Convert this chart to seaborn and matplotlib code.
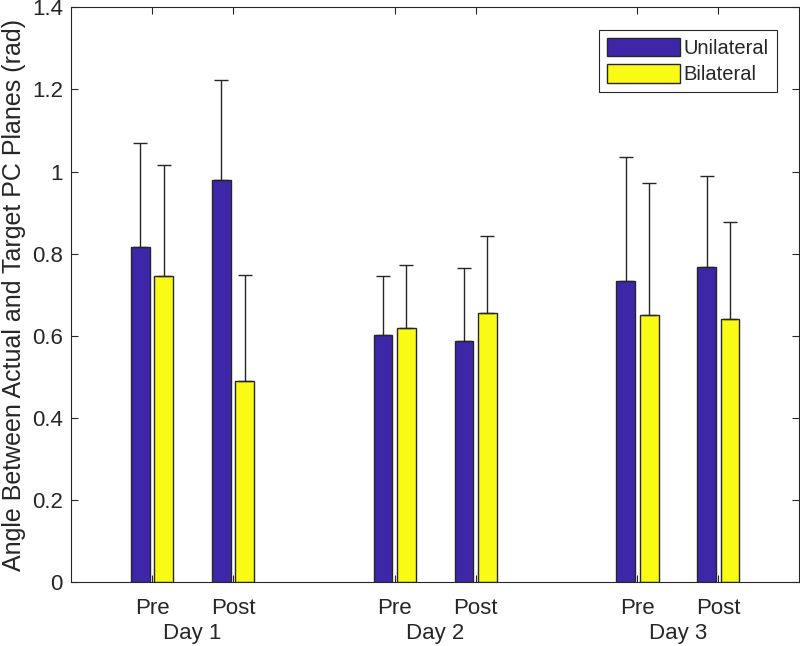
import numpy as np
import pandas as pd
import matplotlib
matplotlib.use("Agg")
import matplotlib.pyplot as plt
import matplotlib.transforms as mtransforms
import seaborn as sns

# values
days = ["Day 1", "Day 2", "Day 3"]
phases = ["Pre", "Post", "Pre", "Post", "Pre", "Post"]
positions = [1, 2, 4, 5, 7, 8]
groups = ["Unilateral", "Bilateral"]

uni_mean = [0.816, 0.980, 0.602, 0.588, 0.732, 0.768]
uni_err = [0.254, 0.243, 0.143, 0.178, 0.304, 0.222]
bil_mean = [0.746, 0.490, 0.619, 0.655, 0.650, 0.641]
bil_err = [0.271, 0.258, 0.153, 0.189, 0.322, 0.237]

colors = ["#3e26a8", "#f9fb15"]
dark = "#262626"

df = pd.DataFrame({
    "pos": positions * 2,
    "value": uni_mean + bil_mean,
    "err": uni_err + bil_err,
    "group": [groups[0]] * 6 + [groups[1]] * 6,
})

sns.set_style("white")
plt.rcParams["font.family"] = ["Liberation Sans", "DejaVu Sans"]

fig = plt.figure(figsize=(8, 6.46), dpi=100)
ax = fig.add_axes([0.089, 0.0995, 0.91, 0.889])

sns.barplot(data=df, x="pos", y="value", hue="group", hue_order=groups,
            native_scale=True, width=0.58, gap=0.2, palette=colors,
            saturation=1, edgecolor=dark, linewidth=1.0, errorbar=None, ax=ax)

# one-sided error bars on top of each bar
for cont, grp in zip(ax.containers, groups):
    sub = df[df["group"] == grp]
    xs = [b.get_x() + b.get_width() / 2 for b in cont]
    ax.errorbar(xs, sub["value"], yerr=[np.zeros(len(sub)), sub["err"]],
                fmt="none", ecolor=dark, elinewidth=1.0, capsize=4.7,
                capthick=1.0, zorder=1)

ax.set_xlim(0, 9)
ax.set_ylim(0, 1.4)
ax.set_yticks(np.arange(0, 1.41, 0.2))
ax.set_yticklabels(["0", "0.2", "0.4", "0.6", "0.8", "1", "1.2", "1.4"])
ax.set_xticks(positions)
ax.set_xticklabels(phases)
ax.set_xlabel("")
ax.set_ylabel("Angle Between Actual and Target PC Planes (rad)", fontsize=18,
              color=dark, labelpad=4)

ax.tick_params(axis="both", direction="in", length=5, width=0.8, colors=dark,
               labelsize=16, top=True, right=True, bottom=True, left=True)
ax.tick_params(axis="x", pad=12)
ax.tick_params(axis="y", pad=6)
for s in ax.spines.values():
    s.set_visible(True)
    s.set_color(dark)
    s.set_linewidth(0.8)

trans = mtransforms.blended_transform_factory(ax.transData, ax.transAxes)
for i, d in enumerate(days):
    mid = (positions[2 * i] + positions[2 * i + 1]) / 2
    ax.text(mid, -0.091, d, transform=trans, ha="center", va="center",
            fontsize=16, color=dark)

leg = ax.legend(loc="upper right", fontsize=14.5, frameon=True, fancybox=False,
                edgecolor=dark, framealpha=1, borderaxespad=1.1,
                handlelength=3.6, handleheight=1.05, handletextpad=0.2,
                labelspacing=0.3, borderpad=0.4)
leg.get_frame().set_linewidth(0.8)

fig.savefig("out.png", dpi=100)
